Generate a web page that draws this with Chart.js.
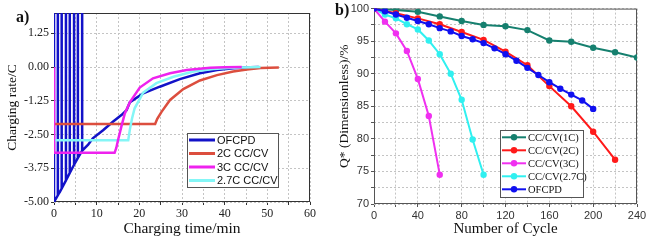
<!DOCTYPE html>
<html>
<head>
<meta charset="utf-8">
<script src="https://cdn.jsdelivr.net/npm/chart.js@4.4.0/dist/chart.umd.min.js"></script>
<style>
  body { margin: 0; background: #fff; }
  #wrap { position: relative; width: 650px; height: 241px; overflow: hidden; }
  canvas { position: absolute; top: 0; }
  .tag { position: absolute; font: bold 16px "Liberation Serif", serif; color: #111; line-height: 1; }
</style>
</head>
<body>
<div id="wrap">
  <canvas id="chartA" width="330" height="241" style="left:0"></canvas>
  <canvas id="chartB" width="320" height="241" style="left:330px"></canvas>
  <div class="tag" style="left:16px;top:9px">a)</div>
  <div class="tag" style="left:335px;top:2px">b)</div>
</div>
<script>
// ---- panel a: charging rate vs time ----
const ofcpdTime = [0, 0, 0.9, 0.9, 0.9, 1.8, 1.8, 1.8, 2.8, 2.8, 2.8, 3.7, 3.7, 3.7, 4.7, 4.7, 4.7, 5.6, 5.6, 5.6, 6.6, 6.6, 6.6, 8.0, 9.1, 11.5, 13.8, 15.8, 17.0, 17.8, 20.9, 24.8, 29.5, 34.2, 38.2, 42, 46, 48];
const ofcpdRate = [2, -5.0, -4.75, 2, -4.75, -4.5, 2, -4.5, -4.2, 2, -4.2, -3.92, 2, -3.92, -3.62, 2, -3.62, -3.37, 2, -3.37, -3.1, 2, -3.1, -2.88, -2.64, -2.34, -2.03, -1.78, -1.6, -1.3, -0.98, -0.73, -0.45, -0.23, -0.11, -0.05, -0.01, 0];
const cc2Time = [0, 23.7, 24.2, 25.2, 27.2, 30.3, 34.2, 38.2, 42, 45.2, 48.4, 52.7];
const cc2Rate = [-2.11, -2.11, -1.92, -1.66, -1.22, -0.82, -0.5, -0.3, -0.17, -0.09, -0.04, -0.02];
const cc3Time = [0, 0, 14.2, 14.6, 15.0, 15.8, 16.6, 17.8, 20.1, 23.2, 27.2, 31.1, 36.6, 40, 44];
const cc3Rate = [0, -3.18, -3.18, -3.0, -2.71, -2.2, -1.72, -1.3, -0.76, -0.42, -0.23, -0.11, -0.03, -0.01, 0];
const cc27Time = [0, 17.4, 17.8, 18.3, 18.9, 20.9, 24, 28, 32.7, 37.4, 42, 48.4];
const cc27Rate = [-2.71, -2.71, -2.3, -1.9, -1.53, -0.95, -0.6, -0.36, -0.17, -0.07, -0.03, 0];

// ---- panel b: capacity vs cycle ----
const cycles1C = [0, 20, 40, 60, 80, 100, 120, 140, 160, 180, 200, 220, 240];
const q1C = [100, 99.8, 99.5, 98.8, 98.1, 97.5, 97.3, 96.7, 95.1, 94.9, 94.0, 93.3, 92.5];
const cycles2C = [0, 20, 40, 60, 80, 100, 120, 140, 160, 180, 200, 220];
const q2C = [100, 99.3, 98.5, 97.6, 96.4, 95.2, 93.4, 91.3, 88.1, 85.0, 81.1, 76.8];
const cycles3C = [0, 10, 20, 30, 40, 50, 60];
const q3C = [100, 98.0, 96.2, 93.5, 89.2, 83.5, 74.5];
const cycles27C = [0, 10, 20, 30, 40, 50, 60, 70, 80, 90, 100];
const q27C = [100, 99.1, 98.5, 97.6, 96.8, 95.1, 93.0, 90.0, 86.0, 79.9, 74.5];
const cyclesOF = [0, 10, 20, 30, 40, 50, 60, 70, 80, 90, 100, 110, 120, 130, 140, 150, 160, 170, 180, 190, 200];
const qOF = [100, 99.6, 99.1, 98.6, 98.1, 97.6, 97.0, 96.5, 95.8, 95.3, 94.7, 93.9, 93.0, 92.0, 90.9, 89.8, 88.7, 87.7, 86.8, 85.9, 84.6];

const pts = (xs, ys) => xs.map((x, i) => ({ x: x, y: ys[i] }));
const serif = '"Liberation Serif", "Times New Roman", serif';
const sans = '"Liberation Sans", Arial, sans-serif';

// box round the plot area
const frame = {
    id: 'frame',
    beforeDatasetsDraw(chart, args, opts) {
        const a = chart.chartArea;
        const ctx = chart.ctx;
        ctx.save();
        ctx.strokeStyle = opts.color || '#333';
        ctx.lineWidth = 1;
        ctx.strokeRect(a.left + 0.5, a.top + 0.5, a.right - a.left - 1, a.bottom - a.top - 1);
        ctx.restore();
    }
};

// legend drawn inside the plot
const boxLegend = {
    id: 'boxLegend',
    afterDraw(chart, args, o) {
        const ctx = chart.ctx;
        ctx.save();
        ctx.fillStyle = '#fff';
        ctx.fillRect(o.x, o.y, o.w, o.h);
        ctx.strokeStyle = '#555';
        ctx.lineWidth = 1;
        ctx.strokeRect(o.x + 0.5, o.y + 0.5, o.w, o.h);
        ctx.font = o.font;
        ctx.textBaseline = 'middle';
        chart.data.datasets.forEach((ds, i) => {
            const yy = o.y + o.first + i * o.rowH;
            ctx.strokeStyle = ds.borderColor;
            ctx.lineWidth = o.lineW;
            ctx.beginPath();
            ctx.moveTo(o.x + 2, yy);
            ctx.lineTo(o.x + 2 + o.lineLen, yy);
            ctx.stroke();
            if (o.marker) {
                ctx.fillStyle = ds.borderColor;
                ctx.beginPath();
                ctx.arc(o.x + 2 + o.lineLen / 2, yy, o.marker, 0, Math.PI * 2);
                ctx.fill();
            }
            ctx.fillStyle = '#111';
            ctx.fillText(ds.label, o.x + 4 + o.lineLen, yy + 0.5);
        });
        ctx.restore();
    }
};

const near = (v, step) => Math.abs(v / step - Math.round(v / step)) < 1e-6;

var chartA = new Chart(document.getElementById('chartA'), {
    type: 'line',
    data: {
        datasets: [
            { label: 'OFCPD', data: pts(ofcpdTime, ofcpdRate), borderColor: '#1212c8', borderWidth: 2.5, order: 4 },
            { label: '2C CC/CV', data: pts(cc2Time, cc2Rate), borderColor: '#dc4e3e', borderWidth: 2.5, order: 3 },
            { label: '3C CC/CV', data: pts(cc3Time, cc3Rate), borderColor: '#ee22ee', borderWidth: 2.5, order: 1 },
            { label: '2.7C CC/CV', data: pts(cc27Time, cc27Rate), borderColor: '#84f6f6', borderWidth: 2.5, order: 2 },
        ],
    },
    options: {
        responsive: false,
        animation: false,
        layout: { padding: { top: 13, right: 20, left: 0, bottom: 0 } },
        elements: { point: { radius: 0 }, line: { tension: 0 } },
        plugins: {
            legend: { display: false },
            tooltip: { enabled: false },
            boxLegend: { x: 187, y: 133, w: 91, h: 54, first: 7, rowH: 13.5, lineLen: 26, lineW: 3, font: '11px ' + sans },
            frame: { color: '#333' },
        },
        scales: {
            x: {
                type: 'linear', min: 0, max: 60,
                afterFit(s) { s.height = 39; },
                ticks: { stepSize: 5, color: '#222', font: { family: serif, size: 12 }, padding: 2, maxRotation: 0,
                    callback: v => near(v, 10) ? String(v) : '' },
                grid: { color: '#c4c4c4', tickLength: 3, tickColor: '#333' },
                border: { display: false, dash: [2, 2] },
                title: { display: true, text: 'Charging time/min', color: '#111', font: { family: serif, size: 15.5 }, padding: { top: 0, bottom: 3 } },
            },
            y: {
                min: -5, max: 2,
                afterFit(s) { s.width = 54; },
                ticks: { stepSize: 0.625, color: '#222', font: { family: serif, size: 12 }, padding: 2,
                    callback: v => near(v, 1.25) ? v.toFixed(2) : '' },
                grid: { color: '#c4c4c4', tickLength: 3, tickColor: '#333' },
                border: { display: false, dash: [2, 2] },
                title: { display: true, text: 'Charging rate/C', color: '#111', font: { family: serif, size: 13.5 }, padding: { top: 4, bottom: 0 } },
            },
        },
    },
    plugins: [frame, boxLegend],
});

var chartB = new Chart(document.getElementById('chartB'), {
    type: 'line',
    data: {
        datasets: [
            { label: 'CC/CV(1C)', data: pts(cycles1C, q1C), borderColor: '#16806f', backgroundColor: '#16806f', order: 3 },
            { label: 'CC/CV(2C)', data: pts(cycles2C, q2C), borderColor: '#ff1a1a', backgroundColor: '#ff1a1a', order: 1 },
            { label: 'CC/CV(3C)', data: pts(cycles3C, q3C), borderColor: '#f030f0', backgroundColor: '#f030f0', order: 2 },
            { label: 'CC/CV(2.7C)', data: pts(cycles27C, q27C), borderColor: '#30f0f0', backgroundColor: '#30f0f0', order: 2 },
            { label: 'OFCPD', data: pts(cyclesOF, qOF), borderColor: '#1010f0', backgroundColor: '#1010f0', order: 0 },
        ],
    },
    options: {
        responsive: false,
        animation: false,
        layout: { padding: { top: 8, right: 13, left: 0, bottom: 0 } },
        elements: { point: { radius: 3.2, borderWidth: 0 }, line: { tension: 0, borderWidth: 2 } },
        plugins: {
            legend: { display: false },
            tooltip: { enabled: false },
            boxLegend: { x: 170, y: 130, w: 83, h: 67, first: 7.3, rowH: 13, lineLen: 24, lineW: 2, marker: 3.2, font: '10.5px ' + serif },
            frame: { color: '#555' },
        },
        scales: {
            x: {
                type: 'linear', min: 0, max: 240,
                afterFit(s) { s.height = 37; },
                ticks: { stepSize: 20, color: '#333', font: { family: sans, size: 11 }, padding: 2, maxRotation: 0,
                    callback: v => near(v, 40) ? String(v) : '' },
                grid: { color: '#c4c4c4', tickLength: 3, tickColor: '#555' },
                border: { display: false, dash: [2, 2] },
                title: { display: true, text: 'Number of Cycle', color: '#111', font: { family: serif, size: 15 }, padding: { top: 0, bottom: 3 } },
            },
            y: {
                min: 70, max: 100,
                afterFit(s) { s.width = 44; },
                ticks: { stepSize: 2.5, color: '#333', font: { family: sans, size: 11 }, padding: 2,
                    callback: v => near(v, 5) ? String(v) : '' },
                grid: { color: '#c4c4c4', tickLength: 3, tickColor: '#555' },
                border: { display: false, dash: [2, 2] },
                title: { display: true, text: 'Q* (Dimensionless)/%', color: '#111', font: { family: serif, size: 13.5 }, padding: { top: 6, bottom: 0 } },
            },
        },
    },
    plugins: [frame, boxLegend],
});
</script>
</body>
</html>
